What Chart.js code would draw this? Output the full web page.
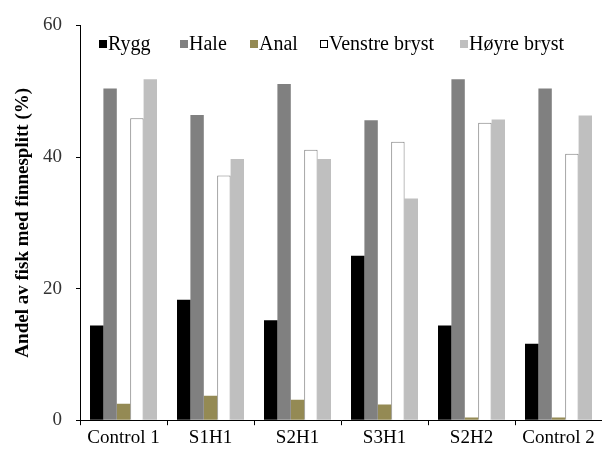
<!DOCTYPE html>
<html>
<head>
<meta charset="utf-8">
<script src="https://cdn.jsdelivr.net/npm/chart.js@4"></script>
<style>
  body { margin: 0; background: #fff; }
  #wrap { width: 602px; height: 453px; }
</style>
</head>
<body>
<div id="wrap"><canvas id="chart" width="602" height="453"></canvas></div>
<script>
const categories = ['Control 1', 'S1H1', 'S2H1', 'S3H1', 'S2H2', 'Control 2'];
const seriesNames = ['Rygg', 'Hale', 'Anal', 'Venstre bryst', 'Høyre bryst'];

const rygg = [14.4, 18.3, 15.2, 25.0, 14.4, 11.6];
const hale = [50.4, 46.4, 51.1, 45.6, 51.8, 50.4];
const anal = [2.5, 3.7, 3.1, 2.4, 0.4, 0.4];
const venstreBryst = [45.9, 37.2, 41.1, 42.3, 45.2, 40.5];
const hoyreBryst = [51.8, 39.7, 39.7, 33.7, 45.7, 46.3];

const yTicks = [0, 20, 40, 60];

const fills = ['#000000', '#808080', '#948a54', '#ffffff', '#bfbfbf'];
const borders = ['#000000', '#808080', '#948a54', '#7f7f7f', '#bfbfbf'];
const serif = '"Liberation Serif", "Times New Roman", serif';

// legend sits inside the plot, drawn by hand
const overlayLegend = {
    id: 'overlayLegend',
    afterDraw(chart, args, opts) {
        const ctx = chart.ctx;
        ctx.save();
        ctx.font = '20px ' + serif;
        ctx.textBaseline = 'middle';
        chart.data.datasets.forEach((ds, i) => {
            const x = opts.xs[i];
            const y = opts.y;
            ctx.fillStyle = ds.backgroundColor;
            ctx.fillRect(x, y - 4, 8, 8);
            if (ds.borderColor !== ds.backgroundColor) {
                ctx.strokeStyle = '#000';
                ctx.lineWidth = 1;
                ctx.strokeRect(x + 0.5, y - 3.5, 7, 7);
            }
            ctx.fillStyle = '#000';
            ctx.fillText(ds.label, x + 9, y + 1);
        });
        ctx.restore();
    }
};

const values = [rygg, hale, anal, venstreBryst, hoyreBryst];

new Chart(document.getElementById('chart'), {
    type: 'bar',
    data: {
        labels: categories,
        datasets: seriesNames.map((name, i) => ({
            label: name,
            data: values[i],
            backgroundColor: fills[i],
            borderColor: borders[i],
            borderWidth: i === 3 ? 1 : 0,
            categoryPercentage: 0.77,
            barPercentage: 1.0
        }))
    },
    options: {
        responsive: false,
        animation: false,
        layout: { padding: { top: 8, left: 8, right: 0, bottom: 3 } },
        plugins: {
            legend: { display: false },
            tooltip: { enabled: false },
            overlayLegend: { xs: [99, 180, 250, 320, 460], y: 44 }
        },
        scales: {
            x: {
                grid: { display: true, drawOnChartArea: false, offset: true, color: '#000', tickLength: 5 },
                border: { color: '#000', width: 1 },
                ticks: { color: '#000', padding: 1, font: { family: serif, size: 19 } }
            },
            y: {
                min: 0,
                max: 60,
                afterBuildTicks: axis => { axis.ticks = yTicks.map(v => ({ value: v })); },
                afterFit: axis => { axis.width = 72; },
                grid: { display: true, drawOnChartArea: false, color: '#000', tickLength: 4 },
                border: { color: '#000', width: 1 },
                ticks: { color: '#333', padding: 14, font: { family: serif, size: 19 } },
                title: {
                    display: true,
                    text: 'Andel av fisk med finnesplitt (%)',
                    color: '#000',
                    padding: { top: 4, bottom: 0 },
                    font: { family: serif, size: 19, weight: 'bold' }
                }
            }
        }
    },
    plugins: [overlayLegend]
});
</script>
</body>
</html>
